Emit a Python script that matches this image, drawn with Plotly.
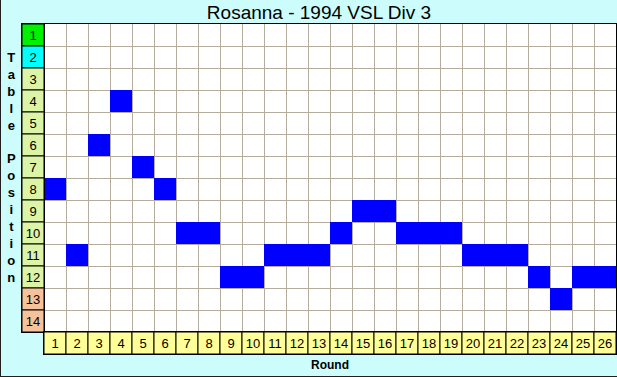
import plotly.graph_objects as go

W, H = 617, 377

rounds = list(range(1, 27))
positions = [8, 11, 6, 4, 7, 8, 10, 10, 12, 12, 11, 11, 11, 10, 9, 9, 10, 10, 10, 11, 11, 11, 12, 13, 12, 12]
table_rows = list(range(1, 15))
title_text = "Rosanna - 1994 VSL Div 3"
x_title = "Round"
y_title = "Table Position"

# zone colours for the table-position labels
def zone_color(p):
    if p == 1:
        return "#00F000"
    if p == 2:
        return "#00FFFF"
    if p >= 13:
        return "#F6C29A"
    return "#DCF4A6"

z = [[1 if positions[r - 1] == p else None for r in rounds] for p in table_rows]

def px_x(v):
    return v / W

def px_y(v):
    return (H - v) / H

font_family = "Liberation Sans, Arial, sans-serif"

fig = go.Figure()

fig.add_trace(go.Heatmap(
    x=rounds, y=table_rows, z=z,
    colorscale=[[0, "#0000FF"], [1, "#0000FF"]],
    showscale=False, hoverinfo="skip",
    xaxis="x", yaxis="y",
))

fig.add_trace(go.Bar(
    x=[1] * len(table_rows), y=table_rows, orientation="h", width=1,
    marker=dict(color=[zone_color(p) for p in table_rows], line=dict(color="black", width=1)),
    text=[str(p) for p in table_rows], textposition="inside", insidetextanchor="middle",
    textangle=0, constraintext="none",
    textfont=dict(family=font_family, size=13, color="black"),
    hoverinfo="skip", xaxis="x2", yaxis="y2", showlegend=False,
))

fig.add_trace(go.Bar(
    x=rounds, y=[1] * len(rounds), width=1,
    marker=dict(color="#FFFF99", line=dict(color="black", width=1)),
    text=[str(r) for r in rounds], textposition="inside", insidetextanchor="middle",
    textangle=0, constraintext="none",
    textfont=dict(family=font_family, size=13, color="black"),
    hoverinfo="skip", xaxis="x3", yaxis="y3", showlegend=False,
))

grid_dom_x = [px_x(44), px_x(616)]
grid_dom_y = [px_y(332), px_y(24)]

common = dict(showticklabels=False, ticks="", zeroline=False, showline=True,
              linecolor="black", linewidth=1, mirror=True, fixedrange=True)

fig.update_layout(
    width=W, height=H,
    margin=dict(l=0, r=0, t=0, b=0),
    paper_bgcolor="#CCFCFC", plot_bgcolor="white",
    showlegend=False,
    uniformtext=dict(minsize=13, mode="show"),
    font=dict(family=font_family, size=12, color="black"),
    xaxis=dict(domain=grid_dom_x, range=[0.5, 26.5], tickmode="linear", tick0=0.5, dtick=1,
               showgrid=True, gridcolor="#B4AC9C", gridwidth=1, anchor="y", **common),
    yaxis=dict(domain=grid_dom_y, range=[14.5, 0.5], tickmode="linear", tick0=0.5, dtick=1,
               showgrid=True, gridcolor="#B4AC9C", gridwidth=1, anchor="x", **common),
    xaxis2=dict(domain=[px_x(22), px_x(44)], range=[0, 1], showgrid=False, anchor="y2", **common),
    yaxis2=dict(domain=grid_dom_y, range=[14.5, 0.5], showgrid=False, anchor="x2", **common),
    xaxis3=dict(domain=grid_dom_x, range=[0.5, 26.5], showgrid=False, anchor="y3", **common),
    yaxis3=dict(domain=[px_y(354), px_y(332)], range=[0, 1], showgrid=False, anchor="x3", **common),
    title=dict(text=title_text, x=px_x(319), xanchor="center", y=1 - 12 / H, yanchor="middle",
               yref="container", xref="container",
               font=dict(family=font_family, size=19, color="black")),
    annotations=[
        dict(text=x_title, x=px_x(330), y=px_y(365), xref="paper", yref="paper",
             xanchor="center", yanchor="middle", showarrow=False,
             font=dict(family=font_family, size=12, color="black", weight="bold")),
        dict(text="<br>".join(list(y_title)), x=px_x(11), y=px_y(167),
             xref="paper", yref="paper", xanchor="center", yanchor="middle", showarrow=False,
             font=dict(family=font_family, size=13, color="black", weight="bold")),
    ],
    shapes=[
        dict(type="line", xref="paper", yref="paper", x0=0.5 / W, x1=0.5 / W, y0=0, y1=1,
             line=dict(color="#202020", width=1)),
        dict(type="line", xref="paper", yref="paper", x0=0, x1=1, y0=0.5 / H, y1=0.5 / H,
             line=dict(color="#202020", width=1)),
    ],
)

fig.write_html(
    "out.html",
    config={"displayModeBar": False},
    post_script="document.body.style.margin='0';document.body.style.overflow='hidden';",
)
